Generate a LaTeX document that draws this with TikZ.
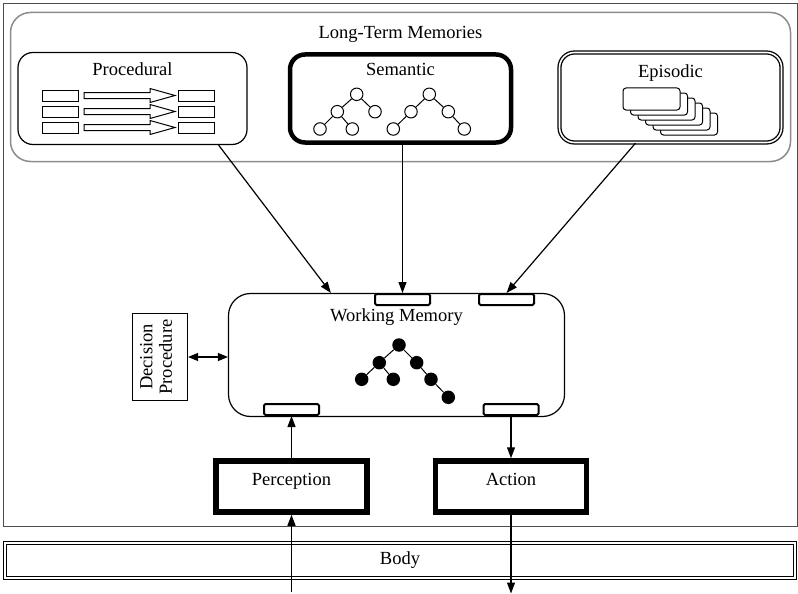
\documentclass[tikz,border=0pt]{standalone}
\usepackage{fontspec}
\setmainfont{Liberation Serif}
\usetikzlibrary{arrows.meta,calc}

\begin{document}
\begin{tikzpicture}[x=1pt,y=-1pt,
  lbl/.style={font=\fontsize{18.5}{19.5}\selectfont},
  arr/.style={line width=1.2pt,-{Triangle[length=11pt,width=8pt]}},
  membox/.style={draw,rounded corners=15pt,line width=1.2pt,minimum width=229,minimum height=92,inner sep=0pt},
  slotbox/.style={draw,fill=white,line width=2pt,rounded corners=1.5pt,minimum width=55,minimum height=11,inner sep=0pt},
  iobox/.style={draw,line width=5.5pt,minimum width=151,minimum height=51,inner sep=0pt,lbl,text height=12.6pt,text depth=14.2pt},
  snode/.style={draw,circle,line width=1pt,minimum size=12.5pt,inner sep=0pt},
  wnode/.style={fill,circle,minimum size=13.5pt,inner sep=0pt}]
\useasboundingbox (0,0) rectangle (798,594);
\draw[black!70,line width=1pt] (3,4) rectangle (797,526);

\node[draw=black!45,line width=1.5pt,rounded corners=20pt,minimum width=780,minimum height=149] (ltm) at (400.5,87) {};
\node[lbl] at ([yshift=-23pt]ltm.north) {Long-Term Memories};

\node[membox] (proc) at (132.5,98.5) {};
\node[lbl] at ([yshift=-17pt]proc.north) {Procedural};
\node[membox,line width=4.5pt,minimum width=221,minimum height=88] (sem) at (400.5,98.5) {};
\node[lbl] at ([yshift=-17pt]sem.north) {Semantic};
\node[membox,double,double distance=1.6pt,line width=1.3pt,minimum width=222,minimum height=90] (epi) at (670.5,97.5) {};
\node[lbl] at ([yshift=-21pt]epi.north) {Episodic};

\foreach \y in {95.5,111.5,127.5}{
  \draw[line width=1pt] (42,\y-5.5) rectangle (78,\y+5.5);
  \draw[line width=1pt] (178,\y-5.5) rectangle (214,\y+5.5);
  \draw[line width=1pt,fill=white] (84,\y-3) -- (150,\y-3) -- (150,\y-7) -- (175,\y) -- (150,\y+7) -- (150,\y+3) -- (84,\y+3) -- cycle;
}

\foreach \n/\x/\y in {a/356.7/94.3,b/337.3/111.7,c/375/111.7,d/320/129,e/352.3/129,
  f/429.3/94.3,g/411/111.7,h/448.3/111.7,i/393.3/129,j/464.3/129}
  \node[snode] (s\n) at (\x,\y) {};
\draw[line width=1pt] (sa)--(sb) (sa)--(sc) (sb)--(sd) (sb)--(se) (sf)--(sg) (sf)--(sh) (sg)--(si) (sh)--(sj);

\foreach \i in {5,4,...,0}
  \draw[fill=white,line width=1pt,rounded corners=3pt] (623+7.5*\i,88+5*\i) rectangle ++(57,22);

\node[draw,line width=1.2pt,rounded corners=22pt,minimum width=336,minimum height=123] (wm) at (396.5,355) {};
\node[lbl] at ([yshift=-24.5pt]wm.north) {Working Memory};
\node[slotbox] (slota) at (402.5,299.5) {};
\node[slotbox] (slotb) at (506.5,299.5) {};
\node[slotbox] (slotc) at (291.5,409.5) {};
\node[slotbox] (slotd) at (511,409.5) {};

\foreach \n/\x/\y in {a/399/345,b/379.3/362.7,c/416.7/362.7,d/361.7/379.3,e/393.3/379.3,f/431/379.3,g/448.3/397.3}
  \node[wnode] (w\n) at (\x,\y) {};
\draw[line width=1pt] (wa)--(wb) (wa)--(wc) (wb)--(wd) (wb)--(we) (wc)--(wf) (wf)--(wg);

\node[draw,line width=1.2pt,minimum width=55,minimum height=87] (dec) at (160,357) {};
\node[lbl,rotate=90,align=center] at ([xshift=-4pt]dec.center) {Decision\\Procedure};
\draw[line width=1.2pt,{Triangle[length=10pt,width=8pt]}-{Triangle[length=10pt,width=8pt]}] (dec.east) -- (dec.east -| wm.west);

\node[iobox] (perc) at (291.5,486.5) {Perception};
\node[iobox] (act) at (511,486.5) {Action};
\node[draw,double,double distance=1.5pt,line width=1.2pt,minimum width=790,minimum height=35,lbl] (body) at (400,560.5) {Body};
\coordinate (percin) at (291.5,592);
\coordinate (actout) at (511,593.5);

\draw[arr] ([xshift=-29pt]proc.south east) -- ($(wm.north west)+(103,0)$);
\draw[arr] (slota.north |- sem.south) -- (slota.north);
\draw[arr] ([xshift=-35pt]epi.south) -- (slotb.north);
\draw[arr] (perc.north) -- (slotc.south);
\draw[arr] (slotd.south) -- (act.north);
\draw[arr] (percin) -- (perc.south);
\draw[arr] (act.south) -- (actout);
\end{tikzpicture}
\end{document}
